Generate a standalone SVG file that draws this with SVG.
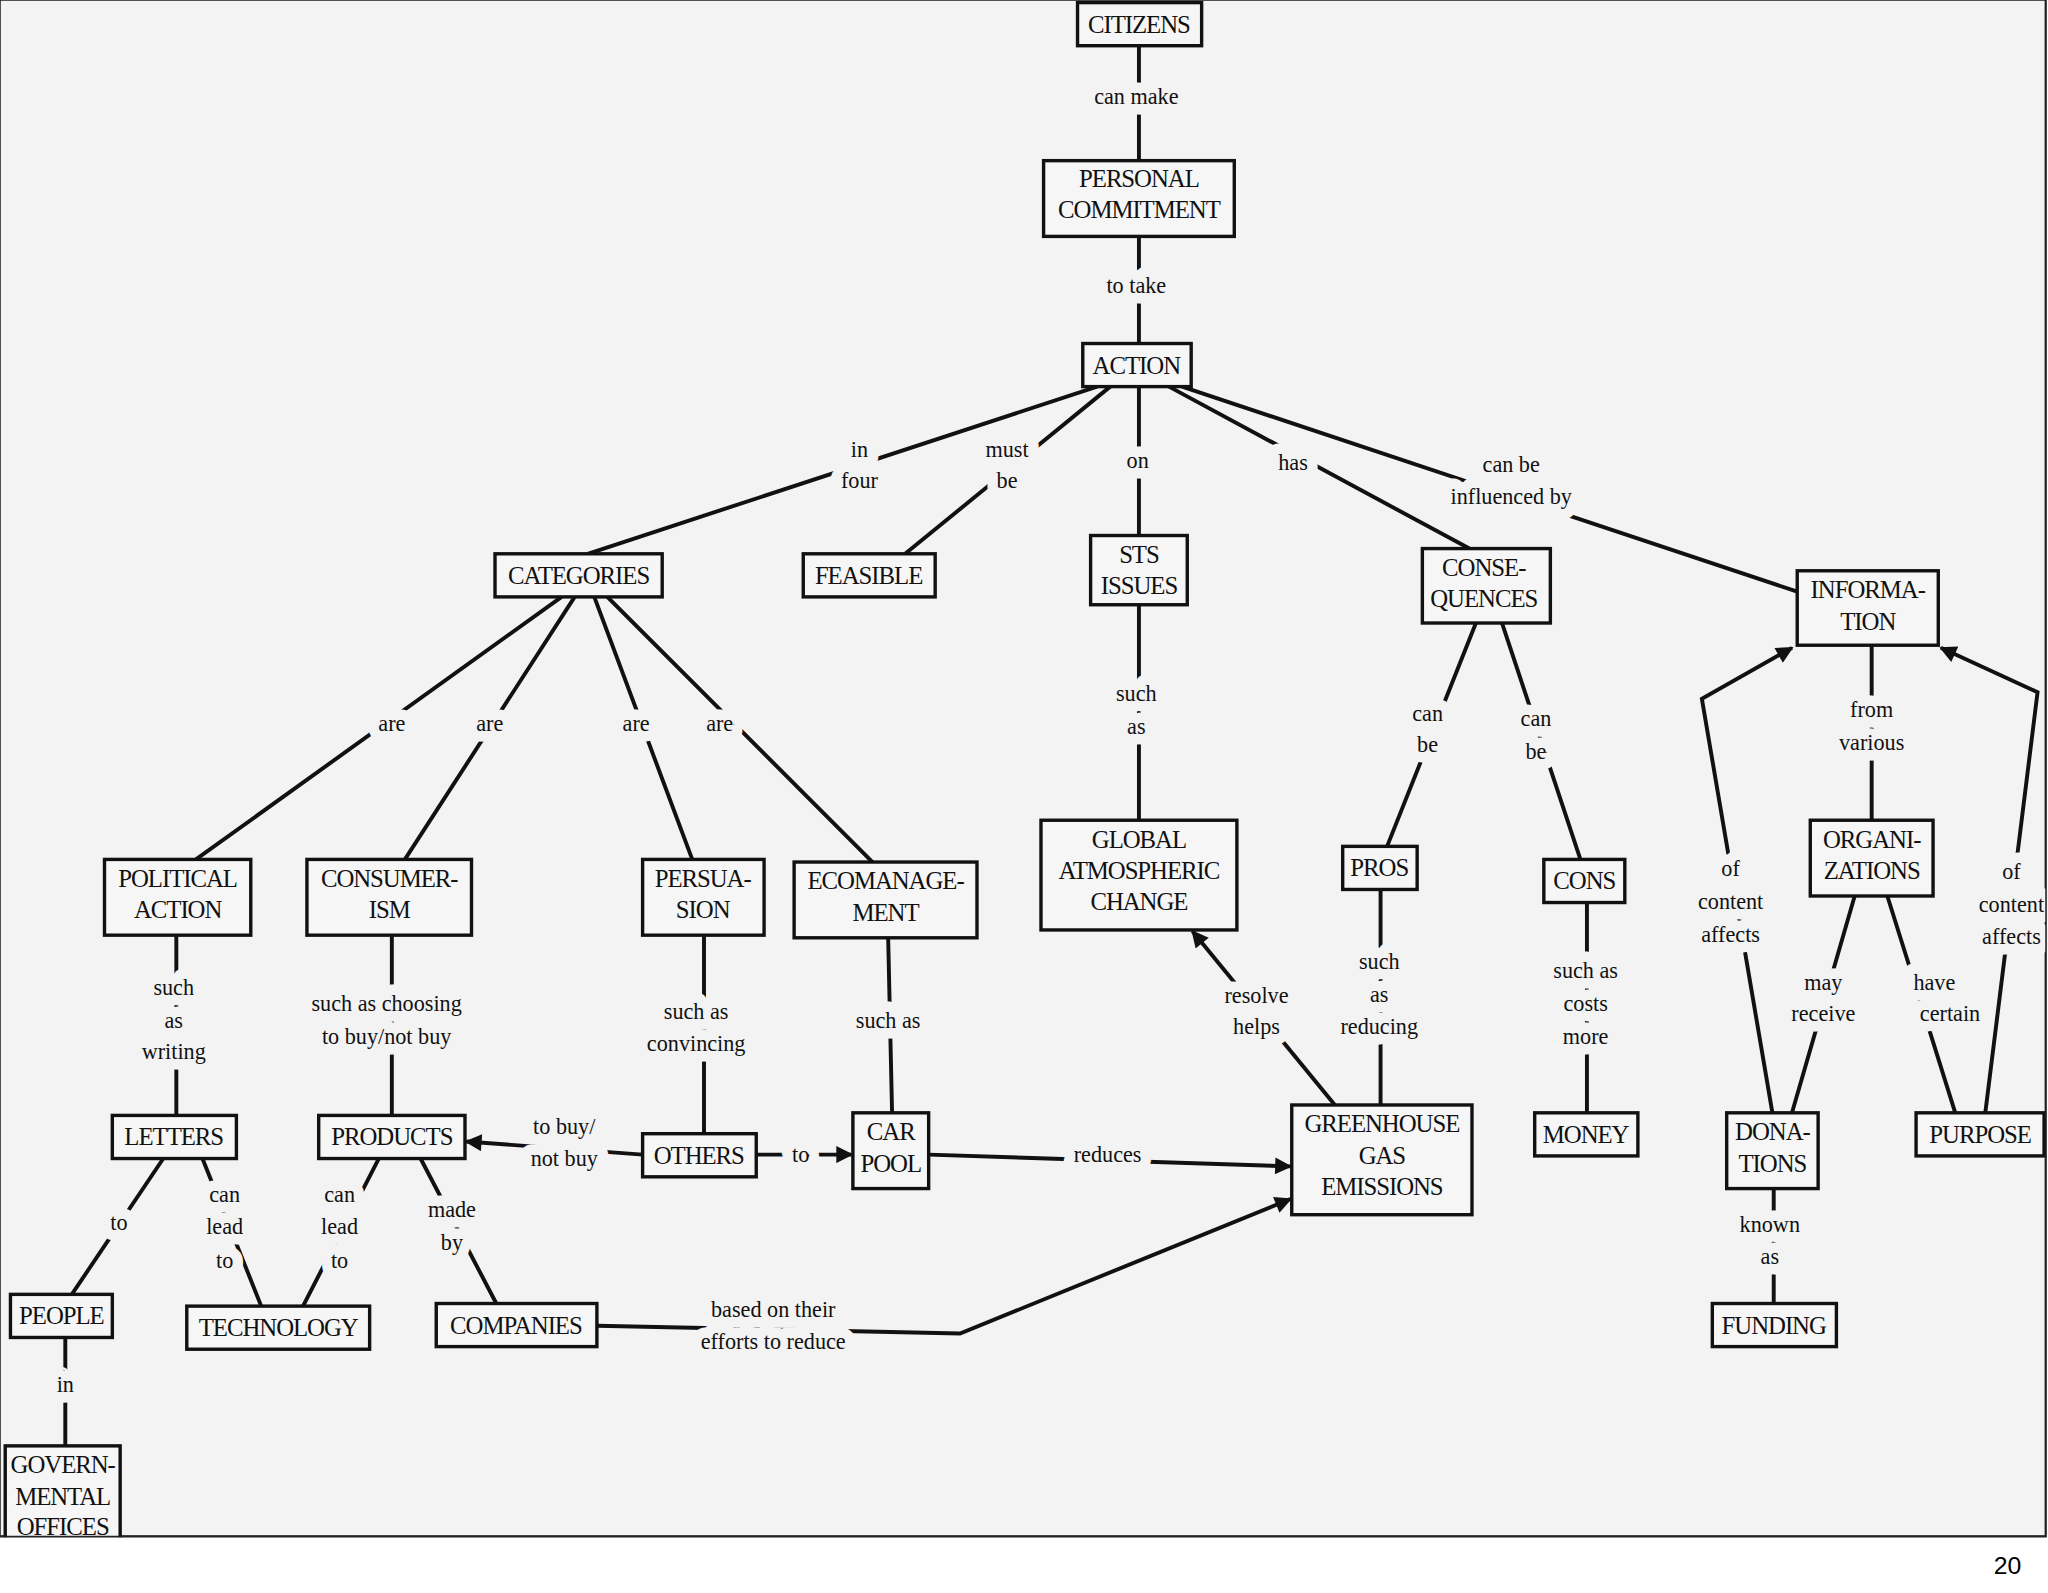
<svg xmlns="http://www.w3.org/2000/svg" width="2048" height="1593" viewBox="0 0 2048 1593">
<style>
.n rect{fill:#f6f6f6;stroke:#111;stroke-width:2.6}
.n text{font-family:"Liberation Serif",serif;font-size:19px;fill:#111;text-anchor:middle;letter-spacing:-0.8px}
#c path{fill:none;stroke:#111;stroke-width:3}
.l{font-family:"Liberation Serif",serif;font-size:17px;fill:#111;text-anchor:middle;stroke:#f3f3f3;stroke-width:16;paint-order:stroke;stroke-linejoin:round}
</style>
<defs><marker id="a" viewBox="0 0 10 10" refX="9" refY="5" markerWidth="15" markerHeight="13" orient="auto" markerUnits="userSpaceOnUse"><path d="M0,0L10,5L0,10z" fill="#111"/></marker></defs>
<rect width="2048" height="1593" fill="#fff"/>
<g transform="scale(1.30612)">
<rect x="0" y="0" width="1566" height="1176" fill="#f3f3f3" stroke="#222" stroke-width="1.2"/>
<g id="c">
<path d="M872,35V123M872,181V263M840,296L450,424M850,296L693,424M872,296V410M895,296L1125,420M905,296L1376,453"/>
<path d="M430,457L150,658M440,457L310,658M455,457L530,658M465,457L668,660M872,463V628M1130,477L1062,648M1150,477L1210,658M1433,628V494"/>
<path d="M1357,852L1303,535L1372,496" marker-end="url(#a)"/>
<path d="M1520,852L1560,530L1486,496" marker-end="url(#a)"/>
<path d="M1420,686L1372,852M1445,686L1497,852M135,716V854M300,716V854M539,716V868M680,718L683,852M1057,681V846M1215,691V852"/>
<path d="M1022,846L913,713" marker-end="url(#a)"/>
<path d="M711,884L988,893" marker-end="url(#a)"/>
<path d="M579,884L652,884" marker-end="url(#a)"/>
<path d="M492,884L357,874" marker-end="url(#a)"/>
<path d="M457,1015L735,1021L988,918" marker-end="url(#a)"/>
<path d="M322,887L380,998M290,887L232,1000M155,887L200,1000M125,887L55,991M50,1024V1107M1358,910V998"/>
</g>
<g>
<text class="l" x="870" y="80">can make</text>
<text class="l" x="870" y="224">to take</text>
<text class="l" x="658" y="350">in</text><text class="l" x="658" y="374">four</text>
<text class="l" x="771" y="350">must</text><text class="l" x="771" y="374">be</text>
<text class="l" x="871" y="358">on</text>
<text class="l" x="990" y="360">has</text>
<text class="l" x="1157" y="361">can be</text><text class="l" x="1157" y="386">influenced by</text>
<text class="l" x="300" y="560">are</text><text class="l" x="375" y="560">are</text><text class="l" x="487" y="560">are</text><text class="l" x="551" y="560">are</text>
<text class="l" x="870" y="537">such</text><text class="l" x="870" y="562">as</text>
<text class="l" x="1093" y="552">can</text><text class="l" x="1093" y="576">be</text>
<text class="l" x="1176" y="556">can</text><text class="l" x="1176" y="581">be</text>
<text class="l" x="1433" y="549">from</text><text class="l" x="1433" y="574">various</text>
<text class="l" x="1325" y="671">of</text><text class="l" x="1325" y="696">content</text><text class="l" x="1325" y="721">affects</text>
<text class="l" x="1540" y="673">of</text><text class="l" x="1540" y="698">content</text><text class="l" x="1540" y="723">affects</text>
<text class="l" x="1396" y="758">may</text><text class="l" x="1396" y="782">receive</text>
<text class="l" x="1481" y="758">have</text><text class="l" x="1493" y="782">certain</text>
<text class="l" x="133" y="762">such</text><text class="l" x="133" y="787">as</text><text class="l" x="133" y="811">writing</text>
<text class="l" x="296" y="774">such as choosing</text><text class="l" x="296" y="799">to buy/not buy</text>
<text class="l" x="533" y="780">such as</text><text class="l" x="533" y="805">convincing</text>
<text class="l" x="680" y="787">such as</text>
<text class="l" x="1056" y="742">such</text><text class="l" x="1056" y="767">as</text><text class="l" x="1056" y="792">reducing</text>
<text class="l" x="1214" y="749">such as</text><text class="l" x="1214" y="774">costs</text><text class="l" x="1214" y="799">more</text>
<text class="l" x="962" y="768">resolve</text><text class="l" x="962" y="792">helps</text>
<text class="l" x="848" y="890">reduces</text>
<text class="l" x="613" y="890">to</text>
<text class="l" x="432" y="868">to buy/</text><text class="l" x="432" y="893">not buy</text>
<text class="l" x="592" y="1008">based on their</text><text class="l" x="592" y="1033">efforts to reduce</text>
<text class="l" x="346" y="932">made</text><text class="l" x="346" y="957">by</text>
<text class="l" x="260" y="920">can</text><text class="l" x="260" y="945">lead</text><text class="l" x="260" y="971">to</text>
<text class="l" x="172" y="920">can</text><text class="l" x="172" y="945">lead</text><text class="l" x="172" y="971">to</text>
<text class="l" x="91" y="942">to</text>
<text class="l" x="50" y="1066">in</text>
<text class="l" x="1355" y="943">known</text><text class="l" x="1355" y="968">as</text>
</g>
<g id="n1" class="n"><rect x="825" y="2" width="95" height="33"/><text x="872" y="25">CITIZENS</text></g>
<g id="n2" class="n"><rect x="799" y="123" width="146" height="58"/><text x="872" y="143">PERSONAL</text><text x="872" y="167">COMMITMENT</text></g>
<g id="n3" class="n"><rect x="829" y="263" width="83" height="33"/><text x="870" y="286">ACTION</text></g>
<g id="n4" class="n"><rect x="379" y="424" width="128" height="33"/><text x="443" y="447">CATEGORIES</text></g>
<g id="n5" class="n"><rect x="615" y="424" width="101" height="33"/><text x="665" y="447">FEASIBLE</text></g>
<g id="n6" class="n"><rect x="835" y="410" width="74" height="53"/><text x="872" y="431">STS</text><text x="872" y="455">ISSUES</text></g>
<g id="n7" class="n"><rect x="1089" y="420" width="98" height="57"/><text x="1136" y="441">CONSE-</text><text x="1136" y="465">QUENCES</text></g>
<g id="n8" class="n"><rect x="1376" y="437" width="108" height="57"/><text x="1430" y="458">INFORMA-</text><text x="1430" y="482">TION</text></g>
<g id="n9" class="n"><rect x="80" y="658" width="112" height="58"/><text x="136" y="679">POLITICAL</text><text x="136" y="703">ACTION</text></g>
<g id="n10" class="n"><rect x="235" y="658" width="126" height="58"/><text x="298" y="679">CONSUMER-</text><text x="298" y="703">ISM</text></g>
<g id="n11" class="n"><rect x="492" y="658" width="93" height="58"/><text x="538" y="679">PERSUA-</text><text x="538" y="703">SION</text></g>
<g id="n12" class="n"><rect x="608" y="660" width="140" height="58"/><text x="678" y="681">ECOMANAGE-</text><text x="678" y="705">MENT</text></g>
<g id="n13" class="n"><rect x="797" y="628" width="150" height="84"/><text x="872" y="649">GLOBAL</text><text x="872" y="673">ATMOSPHERIC</text><text x="872" y="697">CHANGE</text></g>
<g id="n14" class="n"><rect x="1028" y="648" width="57" height="33"/><text x="1056" y="671">PROS</text></g>
<g id="n15" class="n"><rect x="1182" y="658" width="62" height="33"/><text x="1213" y="681">CONS</text></g>
<g id="n16" class="n"><rect x="1386" y="628" width="94" height="58"/><text x="1433" y="649">ORGANI-</text><text x="1433" y="673">ZATIONS</text></g>
<g id="n17" class="n"><rect x="86" y="854" width="95" height="33"/><text x="133" y="877">LETTERS</text></g>
<g id="n18" class="n"><rect x="244" y="854" width="112" height="33"/><text x="300" y="877">PRODUCTS</text></g>
<g id="n19" class="n"><rect x="492" y="868" width="87" height="33"/><text x="535" y="891">OTHERS</text></g>
<g id="n20" class="n"><rect x="653" y="852" width="58" height="58"/><text x="682" y="873">CAR</text><text x="682" y="897">POOL</text></g>
<g id="n21" class="n"><rect x="989" y="846" width="138" height="84"/><text x="1058" y="867">GREENHOUSE</text><text x="1058" y="891">GAS</text><text x="1058" y="915">EMISSIONS</text></g>
<g id="n22" class="n"><rect x="1175" y="852" width="79" height="33"/><text x="1214" y="875">MONEY</text></g>
<g id="n23" class="n"><rect x="1322" y="852" width="70" height="58"/><text x="1357" y="873">DONA-</text><text x="1357" y="897">TIONS</text></g>
<g id="n24" class="n"><rect x="1467" y="852" width="98" height="33"/><text x="1516" y="875">PURPOSE</text></g>
<g id="n25" class="n"><rect x="8" y="991" width="78" height="33"/><text x="47" y="1014">PEOPLE</text></g>
<g id="n26" class="n"><rect x="143" y="1000" width="140" height="33"/><text x="213" y="1023">TECHNOLOGY</text></g>
<g id="n27" class="n"><rect x="334" y="998" width="123" height="33"/><text x="395" y="1021">COMPANIES</text></g>
<g id="n28" class="n"><rect x="1311" y="998" width="95" height="33"/><text x="1358" y="1021">FUNDING</text></g>
<g id="n29" class="n"><rect x="4" y="1107" width="88" height="75"/><text x="48" y="1128">GOVERN-</text><text x="48" y="1152">MENTAL</text><text x="48" y="1175">OFFICES</text></g>
<rect x="0" y="1177" width="1568" height="50" fill="#fff"/>
<text x="1537" y="1205" font-family="Liberation Sans,sans-serif" font-size="19" text-anchor="middle">20</text>
<path d="M0,1176.5H1566.5V0" fill="none" stroke="#222" stroke-width="1.2"/>
</g>
</svg>
